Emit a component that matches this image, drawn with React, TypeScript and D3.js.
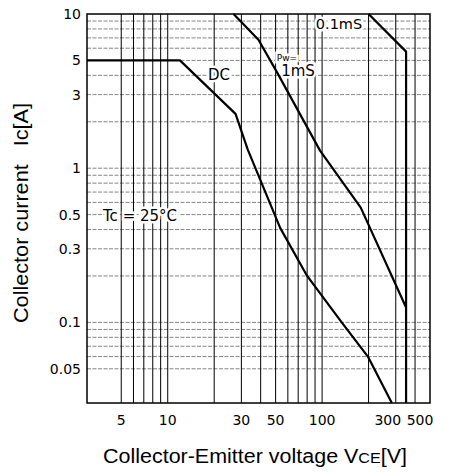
import * as d3 from 'd3'

const W = 451
const H = 472

// safe operating area curves (V, A)
const dcVolts = [3, 12, 27.5, 33, 53.5, 80, 134, 198, 283]
const dcAmps = [5, 5, 2.25, 1.32, 0.41, 0.2, 0.1, 0.06, 0.03]
const ms1Volts = [26.7, 38.7, 51.3, 97, 178, 350]
const ms1Amps = [10, 6.8, 4.15, 1.3, 0.555, 0.125]
const ms01Volts = [200, 350, 350]
const ms01Amps = [10, 5.7, 0.03]

const xTicks = [5, 10, 30, 50, 100, 300, 500]
const xTickLabels = ['5', '10', '30', '50', '100', '300', '500']
const yTicks = [10, 5, 3, 1, 0.5, 0.3, 0.1, 0.05]
const yTickLabels = ['10', '5', '3', '1', '0.5', '0.3', '0.1', '0.05']

const xGrid = [5, 6, 7, 8, 9, 10, 20, 30, 40, 50, 60, 70, 80, 90, 100, 200, 300, 400]
const yGrid = [
  0.05, 0.06, 0.07, 0.08, 0.09, 0.1, 0.2, 0.3, 0.4, 0.5, 0.6, 0.7, 0.8, 0.9,
  1, 2, 3, 4, 5, 6, 7, 8, 9,
]

const x = d3.scaleLog().domain([3, 500]).range([87, 430])
const y = d3.scaleLog().domain([0.03, 10]).range([403, 14])

const line = d3
  .line<[number, number]>()
  .x((d) => x(d[0]))
  .y((d) => y(d[1]))

const zip = (a: number[], b: number[]) => a.map((v, i) => [v, b[i]] as [number, number])

// small nudges for the crowded tick labels at the right end
const xLabelShift: Record<string, number> = { '300': -8, '500': -10 }

const tickFont = 'DejaVu Sans, sans-serif'
const titleFont = 'Liberation Sans, Arial, sans-serif'

function Label({ tx, ty, size, children, anchor = 'middle' }: any) {
  return (
    <text
      x={tx}
      y={ty}
      dy="0.36em"
      fontSize={size}
      fontFamily={tickFont}
      textAnchor={anchor}
      stroke="white"
      strokeWidth={5}
      paintOrder="stroke"
      fill="black"
    >
      {children}
    </text>
  )
}

export default function App() {
  const [x0, x1] = x.range()
  const [y0, y1] = y.range()
  return (
    <svg
      width={W}
      height={H}
      style={{ position: 'absolute', left: 0, top: 0, background: 'white' }}
    >
      <rect width={W} height={H} fill="white" />
      {/* grid */}
      <g>
        {yGrid.map((v) => (
          <line
            key={'h' + v}
            x1={x0}
            x2={x1}
            y1={y(v)}
            y2={y(v)}
            stroke="#777"
            strokeWidth={0.9}
            strokeDasharray="4,1.5"
          />
        ))}
        {xGrid.map((v) => (
          <line
            key={'v' + v}
            x1={x(v)}
            x2={x(v)}
            y1={y0}
            y2={y1}
            stroke="#000"
            strokeWidth={1}
          />
        ))}
      </g>
      {/* curve labels, under the curves */}
      <Label tx={219} ty={75} size={15}>DC</Label>
      <Label tx={339} ty={24} size={14.5}>0.1mS</Label>
      <Label tx={287} ty={58} size={9}>Pw=</Label>
      <Label tx={298} ty={71} size={15}>1mS</Label>
      <Label tx={103} ty={216} size={15} anchor="start">Tc = 25°C</Label>
      <rect
        x={x0}
        y={y1}
        width={x1 - x0}
        height={y0 - y1}
        fill="none"
        stroke="black"
        strokeWidth={1.5}
      />
      {/* curves */}
      <g fill="none" stroke="black" strokeWidth={2.2} strokeLinejoin="round">
        <path d={line(zip(dcVolts, dcAmps)) ?? undefined} />
        <path d={line(zip(ms1Volts, ms1Amps)) ?? undefined} />
        <path d={line(zip(ms01Volts, ms01Amps)) ?? undefined} />
      </g>
      {/* ticks */}
      <g fontFamily={tickFont} fontSize={14} fill="black">
        {yTicks.map((v, i) => (
          <text key={'yt' + v} x={81} y={y(v)} dy="0.36em" textAnchor="end">
            {yTickLabels[i]}
          </text>
        ))}
        {xTicks.map((v, i) => (
          <text
            key={'xt' + v}
            x={x(v) + (xLabelShift[xTickLabels[i]] ?? 0)}
            y={425}
            textAnchor="middle"
          >
            {xTickLabels[i]}
          </text>
        ))}
      </g>
      {/* axis titles */}
      <text
        x={255}
        y={463}
        fontFamily={titleFont}
        fontSize={20}
        textAnchor="middle"
        textLength={304}
        lengthAdjust="spacingAndGlyphs"
      >
        Collector-Emitter voltage V<tspan fontSize={15}>CE</tspan>[V]
      </text>
      <text
        transform="translate(28,213) rotate(-90)"
        fontFamily={titleFont}
        fontSize={20}
        textAnchor="middle"
        textLength={220}
        lengthAdjust="spacingAndGlyphs"
        xmlSpace="preserve"
      >
        {'Collector current   Ic[A]'}
      </text>
    </svg>
  )
}
